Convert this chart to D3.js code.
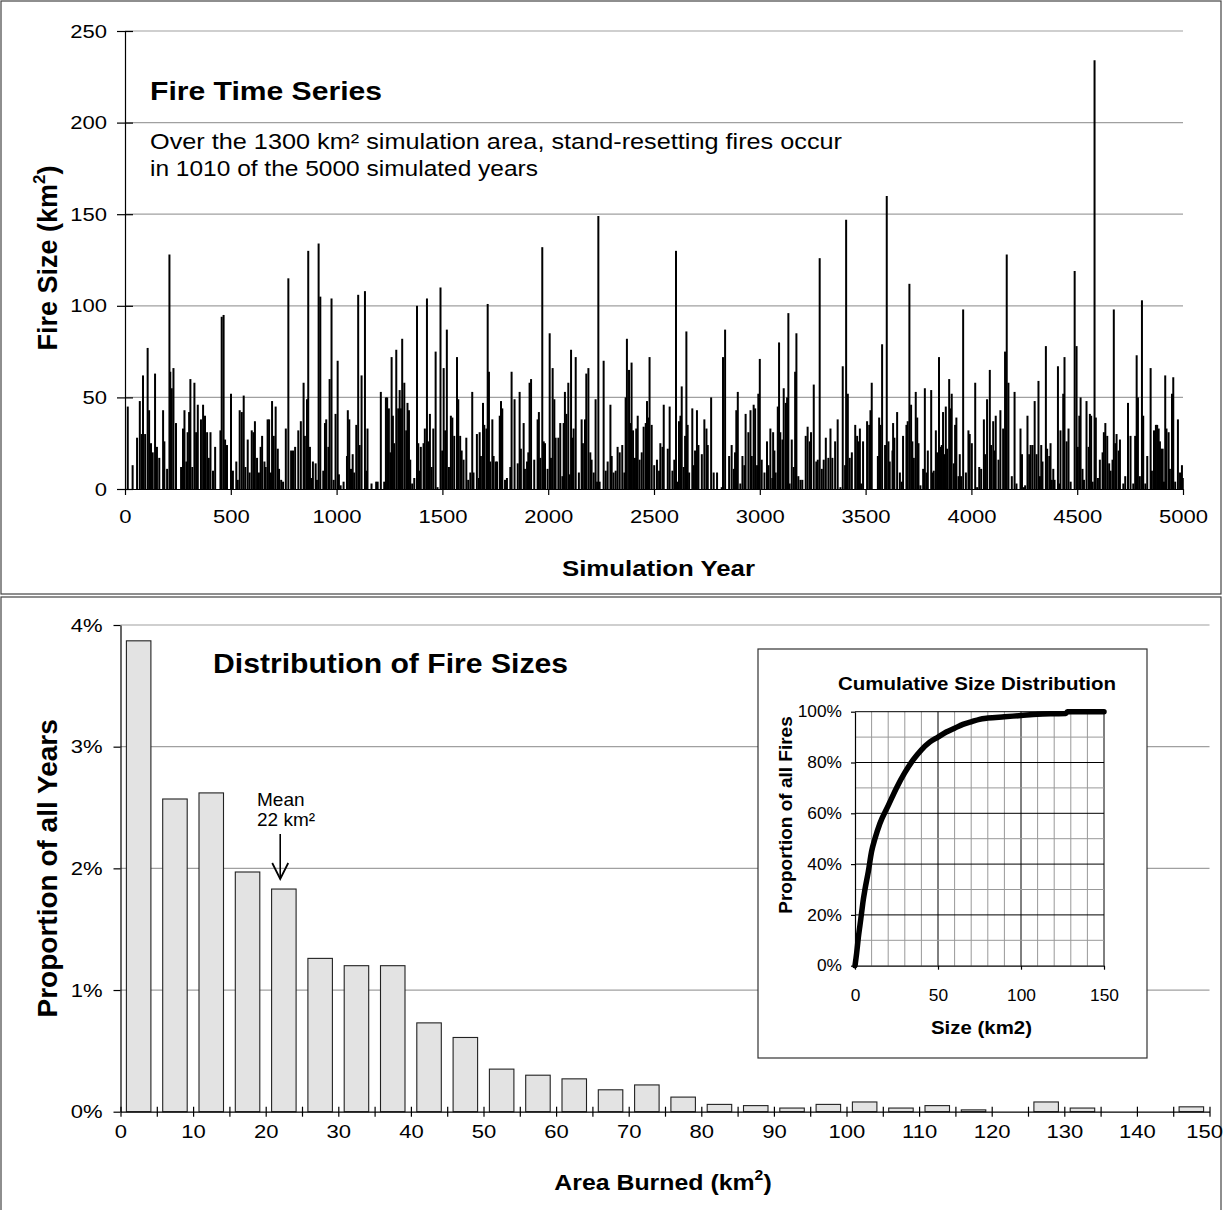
<!DOCTYPE html>
<html>
<head>
<meta charset="utf-8">
<script src="https://cdn.jsdelivr.net/npm/d3@7"></script>
<style>
  body { margin: 0; background: #fff; }
  svg { display: block; font-family: "Liberation Sans", Arial, sans-serif; }
</style>
</head>
<body>
<svg id="chart" width="1223" height="1210"></svg>
<script>
// ---- top panel: fire time series ----
const yearTicks = [0, 500, 1000, 1500, 2000, 2500, 3000, 3500, 4000, 4500, 5000];
const fireSizeTicks = [0, 50, 100, 150, 200, 250];
// [simulation year, fire size km2]
const fires = [
  [13,45],[36,13],[57,28],[70,48],[79,30],[85,62],[95,30],[107,77],[114,43],[123,25],[131,20],[142,63],[151,23],[162,17],[180,43],[186,26],[199,11],[210,128],[214,64],[221,55],[229,66],[241,36],[265,12],[274,33],[281,43],[290,15],[296,31],[303,42],[309,60],[318,12],[328,58],[336,31],[344,46],[359,38],[369,46],[378,40],[388,31],[396,17],[404,31],[416,10],[426,23],[451,32],[457,94],[466,95],[473,27],[482,24],[501,52],[510,10],[526,15],[533,5],[542,43],[552,42],[561,51],[569,12],[580,27],[589,9],[599,32],[607,31],[614,37],[624,17],[633,9],[641,23],[648,29],[659,15],[665,12],[674,38],[681,38],[690,9],[695,48],[703,29],[712,45],[722,22],[728,11],[738,5],[747,4],[760,33],[772,115],[785,21],[794,21],[804,23],[819,32],
  [831,37],[844,58],[850,29],[860,49],[866,130],[874,23],[880,6],[888,15],[901,14],[907,5],[915,134],[923,105],[937,10],[945,36],[951,38],[961,23],[967,60],[976,104],[986,5],[995,41],[1005,70],[1011,8],[1019,2],[1033,4],[1049,18],[1053,43],[1060,38],[1068,11],[1076,19],[1083,9],[1093,35],[1102,106],[1109,24],[1118,62],[1134,108],[1140,10],[1146,33],[1165,3],[1187,4],[1194,4],[1209,53],[1225,4],[1233,50],[1239,50],[1247,44],[1254,20],[1260,72],[1266,40],[1272,25],[1282,76],[1291,44],[1298,54],[1304,44],[1310,82],[1320,58],[1329,32],[1335,47],[1342,43],[1348,16],[1357,3],[1367,6],[1380,100],[1386,25],[1392,10],[1398,23],[1411,25],[1417,33],[1427,104],[1433,26],[1441,41],[1449,12],[1457,33],[1468,75],[1477,1],[1491,110],[1499,21],[1506,66],[1513,32],[1521,87],[1531,12],[1540,40],[1547,39],[1556,29],[1569,72],[1575,49],[1584,29],[1591,21],[1600,16],[1613,28],[1622,5],[1632,9],[1641,53],[1647,9],[1663,30],[1673,6],
  [1676,31],[1682,18],[1692,47],[1698,35],[1708,33],[1714,101],[1720,64],[1726,15],[1736,38],[1742,18],[1752,15],[1758,15],[1771,40],[1777,48],[1783,44],[1796,5],[1805,6],[1821,12],[1827,64],[1841,49],[1856,14],[1865,53],[1871,22],[1884,36],[1890,11],[1900,15],[1906,20],[1912,58],[1919,60],[1934,16],[1950,38],[1956,42],[1963,17],[1972,132],[1979,26],[1985,25],[1997,11],[2007,85],[2013,17],[2021,66],[2029,49],[2035,28],[2048,28],[2057,36],[2067,7],[2073,36],[2079,53],[2086,41],[2095,58],[2101,8],[2108,76],[2114,28],[2120,33],[2130,72],[2145,9],[2158,38],[2164,25],[2174,38],[2180,63],[2190,66],[2199,20],[2205,16],[2215,9],[2224,49],[2231,4],[2237,149],[2243,4],[2262,70],[2272,10],[2281,15],[2294,46],[2300,18],[2309,9],[2319,10],[2328,23],[2338,20],[2350,24],[2360,9],[2366,50],[2372,82],[2382,65],[2388,36],[2394,69],[2401,32],[2410,17],[2416,33],[2423,40],[2432,16],[2442,20],[2451,34],[2461,36],[2467,48],[2473,39],[2479,72],[2489,35],[2501,13],[2514,16],[2524,10],
  [2530,25],[2540,23],[2546,46],[2565,22],[2574,45],[2587,10],[2596,16],[2604,130],[2612,4],[2618,37],[2625,40],[2631,56],[2640,12],[2647,29],[2653,86],[2659,35],[2666,9],[2681,44],[2688,13],[2694,21],[2703,43],[2710,24],[2726,19],[2738,38],[2748,33],[2754,24],[2770,50],[2782,9],[2798,9],[2820,1],[2826,72],[2836,87],[2855,18],[2867,24],[2877,11],[2883,20],[2889,43],[2896,53],[2908,3],[2918,18],[2927,13],[2933,41],[2946,31],[2956,43],[2962,18],[2971,46],[2978,44],[2987,13],[2993,52],[3000,71],[3009,16],[3022,9],[3034,26],[3041,13],[3050,33],[3059,6],[3063,31],[3069,21],[3075,9],[3085,45],[3091,80],[3097,31],[3107,27],[3113,55],[3123,47],[3129,50],[3135,96],[3141,3],[3151,27],[3160,12],[3167,64],[3173,85],[3182,7],[3192,5],[3201,5],[3217,29],[3226,34],[3236,26],[3242,31],[3255,57],[3267,15],[3274,16],[3283,126],[3293,11],[3302,16],[3312,28],[3324,17],[3334,33],[3343,17],[3356,26],[3368,38],
  [3381,1],[3392,67],[3403,13],[3408,147],[3416,52],[3425,17],[3435,20],[3451,35],[3460,29],[3466,26],[3473,33],[3479,3],[3488,26],[3507,37],[3517,35],[3523,43],[3529,58],[3558,18],[3564,39],[3570,35],[3578,79],[3592,24],[3600,160],[3608,26],[3614,15],[3627,21],[3630,36],[3636,28],[3649,42],[3662,9],[3671,4],[3677,29],[3693,35],[3699,37],[3707,112],[3715,46],[3721,26],[3728,17],[3737,53],[3744,39],[3750,25],[3759,2],[3772,11],[3780,55],[3788,9],[3794,21],[3810,54],[3816,9],[3822,10],[3832,32],[3838,20],[3847,72],[3854,23],[3860,24],[3866,42],[3873,19],[3879,45],[3885,22],[3895,60],[3901,44],[3907,52],[3917,14],[3923,35],[3929,39],[3939,7],[3945,19],[3951,7],[3961,98],[3974,9],[3986,32],[3992,30],[4002,25],[4018,58],[4027,1],[4037,12],[4046,11],[4059,38],[4065,19],[4074,49],[4087,65],[4093,24],[4103,37],[4109,21],[4115,40],[4128,16],[4137,43],[4150,33],[4159,75],[4167,128],[4175,58],[4191,7],[4204,53],[4213,3],
  [4232,33],[4239,19],[4248,1],[4254,2],[4265,40],[4273,19],[4280,24],[4289,24],[4299,48],[4308,19],[4317,59],[4324,7],[4330,24],[4336,15],[4352,78],[4358,22],[4368,18],[4374,25],[4380,5],[4387,11],[4393,5],[4409,67],[4415,3],[4421,32],[4434,52],[4440,72],[4450,26],[4459,33],[4469,4],[4488,119],[4497,78],[4503,23],[4510,40],[4516,50],[4525,11],[4532,5],[4544,48],[4554,23],[4560,41],[4566,40],[4573,4],[4582,234],[4588,39],[4598,6],[4607,16],[4620,20],[4626,31],[4633,36],[4642,29],[4651,14],[4658,10],[4667,16],[4673,98],[4680,25],[4686,30],[4696,21],[4702,27],[4718,3],[4727,7],[4740,47],[4752,29],[4765,3],[4774,29],[4781,73],[4787,50],[4796,7],[4806,103],[4812,40],[4822,3],[4831,18],[4847,66],[4853,10],[4863,32],[4872,35],[4878,35],[4885,33],[4891,26],[4897,22],[4904,22],[4910,4],[4916,62],[4922,33],[4932,31],[4938,11],[4948,52],[4954,61],[4963,4],[4976,38],[4986,9],[4995,13],[4999,6]
];

// ---- bottom panel: size distribution ----
const binStarts = [0,5,10,15,20,25,30,35,40,45,50,55,60,65,70,75,80,85,90,95,100,105,110,115,120,125,130,135,140,145];
const binShare = [3.87,2.57,2.62,1.97,1.83,1.26,1.20,1.20,0.73,0.61,0.35,0.30,0.27,0.18,0.22,0.12,0.06,0.05,0.03,0.06,0.08,0.03,0.05,0.015,0,0.08,0.03,0,0,0.04];
const shareTicks = [0, 1, 2, 3, 4];
const areaTicks = [0,5,10,15,20,25,30,35,40,45,50,55,60,65,70,75,80,85,90,95,100,105,110,115,120,125,130,135,140,145,150];
const meanSize = 22;

// ---- inset: cumulative distribution ----
const cdfSize  = [0, 1, 2, 3, 4, 5, 6, 8, 10, 12, 15, 20, 25, 30, 35, 40, 45, 50, 55, 60, 65, 70, 75, 80, 90, 100, 110, 120, 127, 128, 150];
const cdfShare = [0, 5, 11, 16, 21, 26, 30, 37, 45, 50, 56, 63, 70, 76, 81, 85, 88, 90, 92, 93.5, 95, 96, 97, 97.5, 98, 98.5, 99, 99.2, 99.3, 100, 100];
const insetXTicks = [0, 50, 100, 150];
const insetYTicks = [0, 20, 40, 60, 80, 100];

const svg = d3.select("#chart");

// panel frames
svg.append("rect").attr("x", 1).attr("y", 1).attr("width", 1220).attr("height", 593)
  .attr("fill", "none").attr("stroke", "#444").attr("stroke-width", 1.2);
svg.append("rect").attr("x", 1).attr("y", 597).attr("width", 1220).attr("height", 620)
  .attr("fill", "none").attr("stroke", "#444").attr("stroke-width", 1.2);

// tick text in the picture is a bit wider than plain Arial
function styleAxis(g, size, stretch) {
  g.select(".domain").attr("stroke", "#000").attr("stroke-width", 1.2);
  g.selectAll(".tick line").attr("stroke", "#000").attr("stroke-width", 1.2);
  g.selectAll(".tick text").attr("font-size", size).attr("fill", "#000")
    .attr("font-family", '"Liberation Sans", Arial, sans-serif')
    .each(function () {
      const t = d3.select(this);
      const x = +t.attr("x") || 0;
      t.attr("x", x / stretch).attr("transform", `scale(${stretch},1)`);
    });
}

function label(g, x, y, txt, size, opts = {}) {
  const t = g.append("text").attr("x", x).attr("y", y).attr("font-size", size).attr("fill", "#000")
    .text(txt);
  if (opts.bold) t.attr("font-weight", "bold");
  if (opts.anchor) t.attr("text-anchor", opts.anchor);
  if (opts.len) t.attr("textLength", opts.len).attr("lengthAdjust", "spacingAndGlyphs");
  return t;
}

// ================= top =================
const xYear = d3.scaleLinear().domain([0, 5000]).range([125, 1183]);
const yFire = d3.scaleLinear().domain([0, 250]).range([489, 31]);

const topG = svg.append("g");
topG.selectAll("line.grid").data(fireSizeTicks.filter(d => d > 0)).join("line")
  .attr("class", "grid")
  .attr("x1", xYear(0)).attr("x2", xYear(5000))
  .attr("y1", d => yFire(d)).attr("y2", d => yFire(d))
  .attr("stroke", "#a0a0a0").attr("stroke-width", 1.2);

topG.selectAll("line.fire").data(fires).join("line")
  .attr("class", "fire")
  .attr("x1", d => xYear(d[0])).attr("x2", d => xYear(d[0]))
  .attr("y1", yFire(0)).attr("y2", d => yFire(d[1]))
  .attr("stroke", "#000").attr("stroke-width", 2);

const yAxTop = topG.append("g").attr("transform", `translate(${xYear(0)},0)`)
  .call(d3.axisLeft(yFire).tickValues(fireSizeTicks).tickSize(8).tickSizeOuter(0).tickPadding(10));
yAxTop.selectAll(".tick line").attr("x1", 8);
styleAxis(yAxTop, 19, 1.16);

const xAxTop = topG.append("g").attr("transform", `translate(0,${yFire(0)})`)
  .call(d3.axisBottom(xYear).tickValues(yearTicks).tickSize(6).tickSizeOuter(0).tickPadding(15)
    .tickFormat(d3.format("d")));
styleAxis(xAxTop, 19, 1.16);

label(topG, 150, 100, "Fire Time Series", 26, {bold: true, len: 232});
label(topG, 150, 149, "Over the 1300 km² simulation area, stand-resetting fires occur", 22, {len: 692});
label(topG, 150, 176, "in 1010 of the 5000 simulated years", 22, {len: 388});
label(topG, 658.5, 576, "Simulation Year", 22, {bold: true, anchor: "middle", len: 193});

const yTitleTop = topG.append("text")
  .attr("transform", `translate(57,258) rotate(-90)`)
  .attr("text-anchor", "middle").attr("font-size", 27).attr("font-weight", "bold");
yTitleTop.append("tspan").text("Fire Size (km");
yTitleTop.append("tspan").attr("font-size", 17).attr("dy", -12).text("2");
yTitleTop.append("tspan").attr("dy", 12).text(")");

// ================= bottom =================
const xArea = d3.scaleLinear().domain([0, 150]).range([120.5, 1209.5]);
const yShare = d3.scaleLinear().domain([0, 4]).range([1111.7, 625]);

const botG = svg.append("g");
botG.selectAll("line.grid").data(shareTicks.filter(d => d > 0)).join("line")
  .attr("class", "grid")
  .attr("x1", xArea(0)).attr("x2", xArea(150))
  .attr("y1", d => yShare(d)).attr("y2", d => yShare(d))
  .attr("stroke", "#a0a0a0").attr("stroke-width", 1.2);

const barPad = 5.9;
botG.selectAll("rect.bar").data(binStarts.map((s, i) => ({s, v: binShare[i]})).filter(d => d.v > 0))
  .join("rect")
  .attr("class", "bar")
  .attr("x", d => xArea(d.s) + barPad)
  .attr("width", xArea(5) - xArea(0) - 2 * barPad)
  .attr("y", d => yShare(d.v))
  .attr("height", d => yShare(0) - yShare(d.v))
  .attr("fill", "#e3e3e3").attr("stroke", "#222").attr("stroke-width", 1.1);

const yAxBot = botG.append("g").attr("transform", `translate(${xArea(0)},0)`)
  .call(d3.axisLeft(yShare).tickValues(shareTicks).tickSize(7).tickSizeOuter(0).tickPadding(11)
    .tickFormat(d => d + "%"));
styleAxis(yAxBot, 19, 1.16);

const xAxBot = botG.append("g").attr("transform", `translate(0,${yShare(0)})`)
  .call(d3.axisBottom(xArea).tickValues(areaTicks).tickSize(5).tickSizeOuter(0).tickPadding(8)
    .tickFormat(d => d % 10 === 0 ? d : ""));
xAxBot.selectAll(".tick line").attr("y1", -5);
// last label sits against the frame, as in the picture
xAxBot.selectAll(".tick text").filter(d => d === 150).attr("text-anchor", "end").attr("x", 13);
styleAxis(xAxBot, 19, 1.16);

label(botG, 213, 673, "Distribution of Fire Sizes", 27, {bold: true, len: 355});

const xTitleBot = botG.append("text")
  .attr("transform", "translate(663,1190) scale(1.13,1)")
  .attr("text-anchor", "middle").attr("font-size", 22).attr("font-weight", "bold");
xTitleBot.append("tspan").text("Area Burned (km");
xTitleBot.append("tspan").attr("font-size", 14).attr("dy", -10).text("2");
xTitleBot.append("tspan").attr("dy", 10).text(")");

botG.append("text")
  .attr("transform", `translate(57,${(yShare(0) + yShare(4)) / 2}) rotate(-90)`)
  .attr("text-anchor", "middle").attr("font-size", 28).attr("font-weight", "bold")
  .text("Proportion of all Years");

// mean annotation
const mx = xArea(meanSize);
label(botG, 257, 806, "Mean", 19);
label(botG, 257, 826, "22 km²", 19);
botG.append("line").attr("x1", mx).attr("x2", mx).attr("y1", 834).attr("y2", 879)
  .attr("stroke", "#000").attr("stroke-width", 1.6);
botG.append("path").attr("d", `M${mx - 8},863 L${mx},879 L${mx + 8},863`)
  .attr("fill", "none").attr("stroke", "#000").attr("stroke-width", 1.8);

// ================= inset =================
const insG = svg.append("g");
insG.append("rect").attr("x", 758).attr("y", 649).attr("width", 389).attr("height", 409)
  .attr("fill", "#fff").attr("stroke", "#333").attr("stroke-width", 1.2);

const xIns = d3.scaleLinear().domain([0, 150]).range([855, 1104]);
const yIns = d3.scaleLinear().domain([0, 100]).range([965.7, 711.7]);

const vGrid = d3.range(10, 151, 10);
const hGrid = d3.range(10, 101, 10);
insG.selectAll("line.vg").data(vGrid).join("line").attr("class", "vg")
  .attr("x1", d => xIns(d)).attr("x2", d => xIns(d))
  .attr("y1", yIns(0)).attr("y2", yIns(100))
  .attr("stroke", d => d % 50 === 0 ? "#000" : "#999").attr("stroke-width", 1);
insG.selectAll("line.hg").data(hGrid).join("line").attr("class", "hg")
  .attr("x1", xIns(0)).attr("x2", xIns(150))
  .attr("y1", d => yIns(d)).attr("y2", d => yIns(d))
  .attr("stroke", d => d % 20 === 0 ? "#000" : "#999").attr("stroke-width", 1);

const yAxIns = insG.append("g").attr("transform", `translate(${xIns(0)},0)`)
  .call(d3.axisLeft(yIns).tickValues(insetYTicks).tickSize(4).tickSizeOuter(0).tickPadding(9)
    .tickFormat(d => d + "%"));
styleAxis(yAxIns, 16.5, 1.05);
const xAxIns = insG.append("g").attr("transform", `translate(0,${yIns(0)})`)
  .call(d3.axisBottom(xIns).tickValues(insetXTicks).tickSize(4).tickSizeOuter(0).tickPadding(20));
styleAxis(xAxIns, 16.5, 1.05);

insG.append("path").datum(cdfSize.map((s, i) => [s, cdfShare[i]]))
  .attr("d", d3.line().x(d => xIns(d[0])).y(d => yIns(d[1])).curve(d3.curveMonotoneX))
  .attr("fill", "none").attr("stroke", "#000").attr("stroke-width", 5.5)
  .attr("stroke-linejoin", "round").attr("stroke-linecap", "round");

label(insG, 838, 690, "Cumulative Size Distribution", 18, {bold: true, len: 278});
label(insG, 931, 1034, "Size (km2)", 18, {bold: true, len: 101});
insG.append("text")
  .attr("transform", "translate(792,815) rotate(-90)")
  .attr("text-anchor", "middle").attr("font-size", 19).attr("font-weight", "bold")
  .text("Proportion of all Fires");
</script>
</body>
</html>
